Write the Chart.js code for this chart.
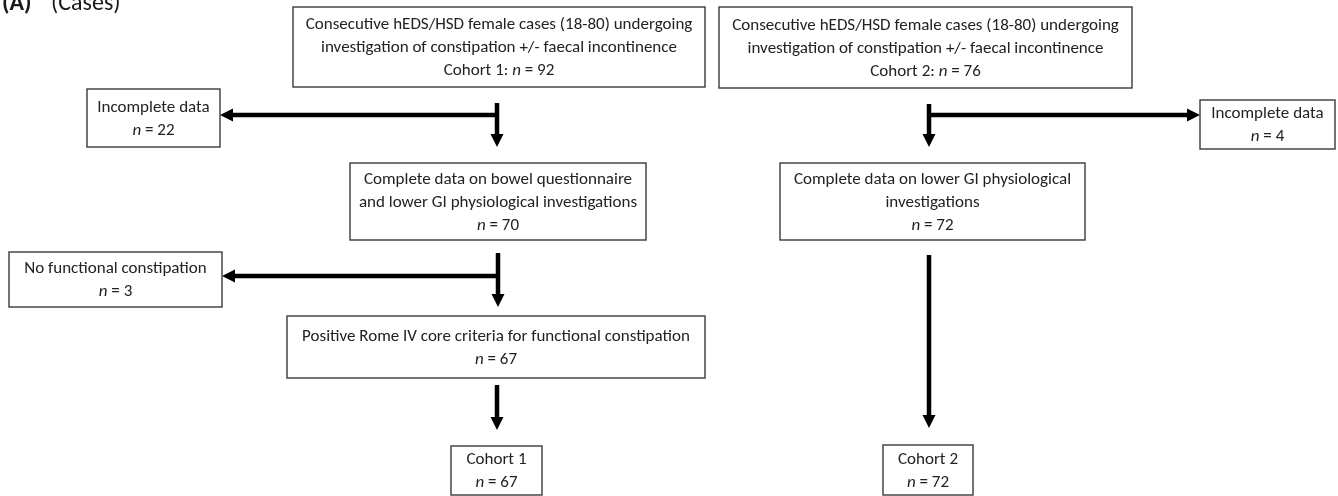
<!DOCTYPE html>
<html><head><meta charset="utf-8">
<script src="https://cdn.jsdelivr.net/npm/chart.js@4.4.1/dist/chart.umd.min.js"></script>
<style>html,body{margin:0;padding:0;background:#fff;overflow:hidden}#wrap{width:1338px;height:496px;position:relative}</style>
</head><body><div id="wrap"><canvas id="c"></canvas></div>
<script>
// ---- content ----
const panelLabel = '(A)';
const panelSubtitle = '(Cases)';
const cohort1Labels = [
  ['Consecutive hEDS/HSD female cases (18-80) undergoing', 'investigation of constipation +/- faecal incontinence', 'Cohort 1: '],
  ['Incomplete data', ''],
  ['Complete data on bowel questionnaire', 'and lower GI physiological investigations', ''],
  ['No functional constipation', ''],
  ['Positive Rome IV core criteria for functional constipation', ''],
  ['Cohort 1', '']
];
const cohort1Counts = [92, 22, 70, 3, 67, 67];
const cohort2Labels = [
  ['Consecutive hEDS/HSD female cases (18-80) undergoing', 'investigation of constipation +/- faecal incontinence', 'Cohort 2: '],
  ['Incomplete data', ''],
  ['Complete data on lower GI physiological', 'investigations', ''],
  ['Cohort 2', '']
];
const cohort2Counts = [76, 4, 72, 72];

// ---- layout (data units on hidden linear scales) ----
const cohort1Boxes = [[293,705,7,87],[87,220,89,147],[350,646,163,240],[9,222,252,307],[287,705,316,378],[451,542,446,495]];
const cohort2Boxes = [[719,1132,7,88],[1200,1335,100,149],[780,1085,163,240],[883,973,445,495]];
const connectors = [
  [[497,103],[497,147]], [[497,115],[220,115]],
  [[498,253],[498,307]], [[498,276],[222,276]],
  [[497,385],[497,430]],
  [[929,104],[929,147]], [[929,115],[1200,115]],
  [[929,255],[929,428]]
];
const HEAD_LEN = 13, HEAD_W = 13, LINE_W = 4.5;
const FONT_SIZE = 17, LINE_H = 23;
const FONT_FAMILY = "'Carlito','Liberation Sans',Arial,sans-serif";

const nodes = [];
cohort1Labels.forEach((l,i)=>nodes.push({lines:l, n:cohort1Counts[i], box:cohort1Boxes[i]}));
cohort2Labels.forEach((l,i)=>nodes.push({lines:l, n:cohort2Counts[i], box:cohort2Boxes[i]}));

function arrowBase(pts){
  const a = pts[pts.length-2], b = pts[pts.length-1];
  const dx=b[0]-a[0], dy=b[1]-a[1], L=Math.hypot(dx,dy);
  return [b[0]-dx/L*HEAD_LEN, b[1]-dy/L*HEAD_LEN];
}
const lineDatasets = connectors.map(pts=>{
  const d = pts.slice(0,-1).concat([arrowBase(pts)]);
  return {type:'scatter', showLine:true, data:d.map(p=>({x:p[0],y:p[1]})), borderColor:'#000', borderWidth:LINE_W,
    pointRadius:0, borderCapStyle:'butt', fill:false, tension:0};
});
const nodeDataset = {type:'scatter', data:nodes.map(nd=>({x:(nd.box[0]+nd.box[1])/2, y:(nd.box[2]+nd.box[3])/2})), pointRadius:0};

function drawRich(ctx, text, n, cx, y){
  const reg = FONT_SIZE+'px '+FONT_FAMILY, ita = 'italic '+FONT_SIZE+'px '+FONT_FAMILY;
  const segs = [];
  if (text) segs.push([text, reg]);
  if (n !== null){ segs.push(['n', ita]); segs.push([' = '+n, reg]); }
  let w=0; segs.forEach(s=>{ctx.font=s[1]; s.push(ctx.measureText(s[0]).width); w+=s[2];});
  let x = cx - w/2;
  segs.forEach(s=>{ctx.font=s[1]; ctx.fillText(s[0], x, y); x+=s[2];});
}

const flowPlugin = {
  id:'flow',
  afterDatasetsDraw(chart){
    const ctx = chart.ctx, xs = chart.scales.x, ys = chart.scales.y;
    ctx.save();
    ctx.fillStyle='#000';
    connectors.forEach(pts=>{
      const b = arrowBase(pts), t = pts[pts.length-1];
      const bx=xs.getPixelForValue(b[0]), by=ys.getPixelForValue(b[1]);
      const tx=xs.getPixelForValue(t[0]), ty=ys.getPixelForValue(t[1]);
      const dx=tx-bx, dy=ty-by, L=Math.hypot(dx,dy), ux=dx/L, uy=dy/L;
      ctx.beginPath();
      ctx.moveTo(tx,ty);
      ctx.lineTo(bx-uy*HEAD_W/2, by+ux*HEAD_W/2);
      ctx.lineTo(bx+uy*HEAD_W/2, by-ux*HEAD_W/2);
      ctx.closePath(); ctx.fill();
    });
    ctx.textBaseline='middle';
    nodes.forEach(nd=>{
      const x0=xs.getPixelForValue(nd.box[0]), x1=xs.getPixelForValue(nd.box[1]);
      const y0=ys.getPixelForValue(nd.box[2]), y1=ys.getPixelForValue(nd.box[3]);
      ctx.fillStyle='#fff'; ctx.fillRect(x0,y0,x1-x0,y1-y0);
      ctx.strokeStyle='#3a3a3a'; ctx.lineWidth=1.4; ctx.strokeRect(x0,y0,x1-x0,y1-y0);
      ctx.fillStyle='#222';
      const k = nd.lines.length, cy=(y0+y1)/2 + 1;
      nd.lines.forEach((ln,i)=>{
        const y = cy + (i-(k-1)/2)*LINE_H;
        drawRich(ctx, ln, i===k-1 ? nd.n : null, (x0+x1)/2, y);
      });
    });
    ctx.textBaseline='alphabetic'; ctx.fillStyle='#1a1a1a';
    ctx.font='bold 24px '+FONT_FAMILY; ctx.fillText(panelLabel, 2, 10);
    ctx.font='24px '+FONT_FAMILY; ctx.fillText(panelSubtitle, 51, 10);
    ctx.restore();
  }
};

new Chart(document.getElementById('c'), {
  type:'scatter',
  data:{datasets:[nodeDataset].concat(lineDatasets)},
  options:{
    responsive:true, maintainAspectRatio:false, animation:false,
    layout:{padding:0},
    plugins:{legend:{display:false}, tooltip:{enabled:false}},
    scales:{
      x:{type:'linear', min:0, max:1338, display:false},
      y:{type:'linear', min:0, max:496, reverse:true, display:false}
    }
  },
  plugins:[flowPlugin]
});
</script></body></html>
